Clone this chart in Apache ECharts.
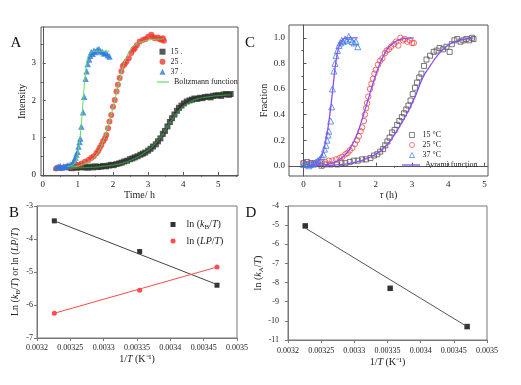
<!DOCTYPE html>
<html><head><meta charset="utf-8">
<script src="https://cdn.jsdelivr.net/npm/echarts@6/dist/echarts.min.js"></script>
<style>html,body{margin:0;padding:0;background:#fff}#c{width:521px;height:385px}</style>
</head><body><div id="c"></div>
<script>
// ---------- Panel A: intensity vs time ----------
const A_X_TICKS = [0, 1, 2, 3, 4, 5];
const A_X_MINOR = [0.5, 1.5, 2.5, 3.5, 4.5, 5.5];
const A_Y_TICKS = [0, 1, 2, 3];
const A_Y_MINOR = [0.5, 1.5, 2.5, 3.5];
const A_NAMES = ['15 .', '25 .', '37 .'];
const a15 = [[0.75,0.2],[0.82,0.18],[0.9,0.21],[0.97,0.19],[1.05,0.22],[1.12,0.2],[1.2,0.21],[1.28,0.19],[1.35,0.22],[1.43,0.2],[1.5,0.23],[1.58,0.21],[1.65,0.22],[1.72,0.24],[1.8,0.23],[1.88,0.25],[1.95,0.27],[2.02,0.26],[2.1,0.29],[2.18,0.31],[2.25,0.33],[2.32,0.36],[2.4,0.38],[2.48,0.42],[2.55,0.44],[2.62,0.47],[2.7,0.5],[2.78,0.54],[2.85,0.57],[2.92,0.6],[3.0,0.65],[3.07,0.7],[3.14,0.76],[3.22,0.82],[3.28,0.9],[3.35,0.98],[3.42,1.1],[3.48,1.18],[3.55,1.3],[3.62,1.42],[3.68,1.52],[3.75,1.62],[3.82,1.72],[3.88,1.8],[3.95,1.86],[4.02,1.92],[4.1,1.97],[4.18,2.0],[4.25,2.02],[4.32,2.05],[4.4,2.04],[4.48,2.07],[4.55,2.06],[4.62,2.09],[4.7,2.1],[4.78,2.08],[4.85,2.12],[4.92,2.13],[5.0,2.14],[5.08,2.12],[5.15,2.16],[5.22,2.17],[5.3,2.15],[5.35,2.17]];
const a25 = [[0.38,0.17],[0.45,0.2],[0.52,0.18],[0.6,0.2],[0.7,0.22],[0.8,0.21],[0.9,0.24],[1.0,0.27],[1.1,0.3],[1.2,0.35],[1.3,0.4],[1.38,0.45],[1.45,0.5],[1.53,0.58],[1.58,0.65],[1.62,0.72],[1.67,0.8],[1.72,0.9],[1.77,0.98],[1.81,1.07],[1.86,1.25],[1.9,1.43],[1.95,1.61],[2.0,1.83],[2.05,2.01],[2.1,2.24],[2.14,2.42],[2.19,2.6],[2.24,2.78],[2.28,2.92],[2.33,2.97],[2.38,3.04],[2.45,3.13],[2.52,3.27],[2.58,3.36],[2.62,3.4],[2.68,3.48],[2.76,3.58],[2.86,3.63],[2.93,3.65],[3.0,3.71],[3.09,3.76],[3.14,3.7],[3.19,3.67],[3.28,3.69],[3.33,3.64],[3.38,3.63],[3.42,3.67],[3.45,3.6]];
const a37 = [[0.38,0.2],[0.45,0.22],[0.5,0.24],[0.55,0.2],[0.6,0.23],[0.65,0.22],[0.7,0.25],[0.75,0.26],[0.8,0.28],[0.86,0.33],[0.9,0.4],[0.93,0.47],[0.96,0.55],[0.99,0.62],[1.02,0.76],[1.05,0.88],[1.07,0.98],[1.1,1.3],[1.15,1.68],[1.18,2.1],[1.22,2.58],[1.25,2.78],[1.28,2.98],[1.32,3.1],[1.35,3.2],[1.38,3.3],[1.42,3.25],[1.46,3.34],[1.5,3.3],[1.55,3.36],[1.6,3.38],[1.65,3.32],[1.7,3.3],[1.75,3.26],[1.8,3.28],[1.85,3.22],[1.9,3.18]];
const a15fit = [[0.75,0.19],[1.5,0.21],[2.0,0.26],[2.4,0.35],[2.7,0.48],[3.0,0.66],[3.2,0.83],[3.4,1.07],[3.6,1.37],[3.8,1.64],[4.0,1.84],[4.2,1.96],[4.4,2.04],[4.6,2.08],[4.8,2.11],[5.0,2.13],[5.35,2.15]];
const a25fit = [[0.8,0.2],[1.2,0.3],[1.5,0.5],[1.7,0.85],[1.9,1.45],[2.0,1.8],[2.1,2.2],[2.2,2.6],[2.3,2.95],[2.4,3.2],[2.5,3.36],[2.6,3.47],[2.8,3.57],[3.0,3.62],[3.2,3.64],[3.45,3.65]];
const a37fit = [[0.7,0.22],[0.9,0.3],[1.0,0.6],[1.05,0.9],[1.1,1.4],[1.15,2.0],[1.2,2.6],[1.25,3.0],[1.3,3.2],[1.4,3.3],[1.5,3.32],[1.7,3.32],[1.9,3.32]];

// ---------- Panel C: fraction vs tau ----------
const C_X_TICKS = [0, 1, 2, 3, 4, 5];
const C_X_MINOR = [0.5, 1.5, 2.5, 3.5, 4.5];
const C_Y_TICKS = [0, 0.2, 0.4, 0.6, 0.8, 1.0];
const C_Y_MINOR = [0.1, 0.3, 0.5, 0.7, 0.9];
const C_NAMES = ['15 °C', '25 °C', '37 °C'];
const c15 = [[0,0.02],[0.1,0.03],[0.2,0.02],[0.3,0.01],[0.5,0.0],[0.6,0.01],[0.75,0.01],[0.93,0.01],[1.05,0.02],[1.16,0.02],[1.28,0.03],[1.39,0.04],[1.5,0.04],[1.62,0.05],[1.73,0.05],[1.85,0.06],[1.95,0.08],[2.04,0.09],[2.12,0.11],[2.2,0.13],[2.26,0.16],[2.32,0.19],[2.38,0.22],[2.45,0.26],[2.52,0.28],[2.59,0.32],[2.65,0.35],[2.72,0.38],[2.78,0.41],[2.84,0.44],[2.9,0.47],[2.96,0.51],[3.02,0.56],[3.08,0.61],[3.14,0.65],[3.2,0.69],[3.26,0.72],[3.33,0.78],[3.4,0.83],[3.5,0.86],[3.6,0.89],[3.68,0.9],[3.76,0.92],[3.86,0.91],[3.95,0.93],[4.04,0.89],[4.1,0.95],[4.17,0.98],[4.25,0.99],[4.34,0.97],[4.42,0.98],[4.5,0.99],[4.58,0.98],[4.66,1.0],[4.7,0.99]];
const c25 = [[0,0.02],[0.1,0.01],[0.2,0.02],[0.3,0.02],[0.4,0.03],[0.5,0.03],[0.6,0.03],[0.7,0.04],[0.8,0.04],[0.9,0.05],[1.0,0.06],[1.07,0.07],[1.16,0.09],[1.22,0.1],[1.28,0.12],[1.35,0.14],[1.42,0.17],[1.48,0.2],[1.53,0.23],[1.58,0.27],[1.62,0.3],[1.67,0.35],[1.7,0.4],[1.73,0.45],[1.76,0.49],[1.79,0.54],[1.84,0.6],[1.88,0.64],[1.92,0.68],[1.96,0.72],[2.0,0.75],[2.06,0.79],[2.12,0.82],[2.18,0.84],[2.25,0.88],[2.3,0.9],[2.36,0.91],[2.42,0.93],[2.5,0.95],[2.56,0.97],[2.62,0.94],[2.68,1.0],[2.75,0.98],[2.8,0.99],[2.87,0.97],[2.94,0.98],[3.0,0.96],[3.05,0.96]];
const c37 = [[0,0.01],[0.05,0.02],[0.1,0.01],[0.15,0.0],[0.2,0.01],[0.25,0.02],[0.3,0.02],[0.35,0.03],[0.4,0.04],[0.45,0.05],[0.5,0.07],[0.55,0.09],[0.58,0.13],[0.62,0.16],[0.65,0.2],[0.68,0.24],[0.7,0.27],[0.75,0.35],[0.78,0.46],[0.8,0.6],[0.84,0.74],[0.87,0.8],[0.9,0.86],[0.94,0.9],[0.98,0.94],[1.02,0.96],[1.06,0.98],[1.1,0.97],[1.15,0.99],[1.2,0.98],[1.25,1.01],[1.3,0.99],[1.35,0.97],[1.4,0.96],[1.45,0.97],[1.5,0.93]];
const c15fit = [[0.6,0.0],[1.2,0.015],[1.6,0.04],[2.0,0.09],[2.3,0.16],[2.6,0.28],[2.9,0.43],[3.1,0.55],[3.3,0.69],[3.5,0.78],[3.7,0.86],[3.9,0.92],[4.1,0.96],[4.3,0.98],[4.7,1.0]];
const c25fit = [[0.3,0.0],[0.8,0.02],[1.1,0.07],[1.3,0.14],[1.5,0.26],[1.65,0.39],[1.8,0.53],[1.95,0.67],[2.1,0.79],[2.25,0.88],[2.4,0.94],[2.6,0.98],[2.8,0.995],[3.05,1.0]];
const c37fit = [[0.1,0.0],[0.3,0.01],[0.45,0.05],[0.55,0.11],[0.65,0.25],[0.72,0.38],[0.78,0.52],[0.84,0.68],[0.9,0.82],[0.96,0.91],[1.02,0.96],[1.1,0.99],[1.2,1.0],[1.5,1.0]];

// ---------- Panels B and D: Arrhenius-type plots ----------
const BD_X_TICKS = [0.0032, 0.00325, 0.0033, 0.00335, 0.0034, 0.00345, 0.0035];
const BD_X_LABELS = ['0.0032', '0.00325', '0.0033', '0.00335', '0.0034', '0.00345', '0.0035'];
const invT = [0.003226, 0.003354, 0.003470];
const lnKB = [-3.45, -4.38, -5.4];
const lnLP = [-6.25, -5.55, -4.85];
const lnKBfit = [[0.003226, -3.45], [0.00347, -5.38]];
const lnLPfit = [[0.003226, -6.25], [0.00347, -4.85]];
const lnKA = [-5.04, -8.3, -10.3];
const lnKAfit = [[0.003226, -5.15], [0.00347, -10.3]];

const FONT = 'Liberation Serif';
const TXT = '#222';
const BOX = '#555';
const BOX2 = '#777';

function pairs(xs, ys) { return xs.map((x, i) => [x, ys[i]]); }

const RICH = {
  n: { fontFamily: FONT, fontSize: 10, color: TXT },
  i: { fontFamily: FONT, fontSize: 10, color: TXT, fontStyle: 'italic' },
  s: { fontFamily: FONT, fontSize: 7, color: TXT, padding: [6, 0, 0, 0] }
};

function mainAxis(o) {
  return Object.assign({
    type: 'value',
    axisLine: { show: true, lineStyle: { color: o.lc || BOX, width: 1 } },
    splitLine: { show: false },
    axisTick: { show: true, inside: o.inside !== false, length: 3, lineStyle: { color: o.lc || BOX },
      customValues: o.ticks },
    axisLabel: { show: true, customValues: o.ticks, margin: o.margin, color: TXT, fontSize: o.fs || 9,
      fontFamily: FONT, formatter: o.fmt },
    nameTextStyle: { color: TXT, fontFamily: FONT, fontSize: 10, rich: RICH }
  }, o.extra);
}
function minorAxis(o) {
  return Object.assign({
    type: 'value',
    axisLine: { show: false },
    splitLine: { show: false },
    axisTick: { show: true, inside: true, length: 2, lineStyle: { color: BOX }, customValues: o.ticks },
    axisLabel: { show: false }
  }, o.extra);
}
const bdFmt = v => BD_X_LABELS[BD_X_TICKS.findIndex(t => Math.abs(t - v) < 1e-8)];

const xAxis = [
  mainAxis({ ticks: A_X_TICKS, margin: 4, fmt: v => String(v), extra: { gridIndex: 0, min: -0.05, max: 5.56,
    name: 'Time/ h', nameLocation: 'middle', nameGap: 12 } }),
  minorAxis({ ticks: A_X_MINOR, extra: { gridIndex: 0, min: -0.05, max: 5.56 } }),
  mainAxis({ ticks: C_X_TICKS, margin: 4, fmt: v => String(v), extra: { gridIndex: 1, min: -0.4, max: 5.1,
    name: '{i|τ} {n|(h)}', nameLocation: 'middle', nameGap: 13 } }),
  minorAxis({ ticks: C_X_MINOR, extra: { gridIndex: 1, min: -0.4, max: 5.1 } }),
  mainAxis({ ticks: BD_X_TICKS, margin: 6, fs: 8, inside: false, lc: BOX2, fmt: bdFmt,
    extra: { gridIndex: 2, min: 0.0032, max: 0.0035,
      name: '{n|1/}{i|T}{n| (K⁻¹)}', nameLocation: 'middle', nameGap: 16 } }),
  mainAxis({ ticks: BD_X_TICKS, margin: 7, fs: 8, inside: false, lc: BOX2, fmt: bdFmt,
    extra: { gridIndex: 3, min: 0.0032, max: 0.0035,
      name: '{n|1/}{i|T}{n| (K⁻¹)}', nameLocation: 'middle', nameGap: 17 } })
];
const yAxis = [
  mainAxis({ ticks: A_Y_TICKS, margin: 5, fmt: v => String(v), extra: { gridIndex: 0, min: -0.03, max: 3.97,
    name: 'Intensity', nameLocation: 'middle', nameGap: 13 } }),
  minorAxis({ ticks: A_Y_MINOR, extra: { gridIndex: 0, min: -0.03, max: 3.97 } }),
  mainAxis({ ticks: C_Y_TICKS, margin: 4, fmt: v => v.toFixed(1), extra: { gridIndex: 1, min: -0.08, max: 1.1,
    name: 'Fraction', nameLocation: 'middle', nameGap: 18 } }),
  minorAxis({ ticks: C_Y_MINOR, extra: { gridIndex: 1, min: -0.08, max: 1.1 } }),
  mainAxis({ ticks: [-7, -6, -5, -4, -3], margin: 4, fs: 8, inside: false, lc: BOX2, fmt: v => String(v),
    extra: { gridIndex: 2, min: -7, max: -3,
      name: '{n|Ln (}{i|k}{s|B}{n|/}{i|T}{n|) or ln (}{i|LP}{n|/}{i|T}{n|)}', nameLocation: 'middle', nameGap: 15 } }),
  mainAxis({ ticks: [-11, -10, -9, -8, -7, -6, -5, -4], margin: 9, fs: 8, inside: false, lc: BOX2, fmt: v => String(v),
    extra: { gridIndex: 3, min: -11, max: -4,
      name: '{n|ln (}{i|k}{s|A}{n|/}{i|T}{n|)}', nameLocation: 'middle', nameGap: 23 } })
];

const GREEN = '#62de62';
const GREEN_D = '#2f8f3a';
const PURPLE = '#8d4ff2';

function scat(name, data, x, y, symbol, size, style) {
  return { type: 'scatter', name, data, xAxisIndex: x, yAxisIndex: y, symbol, symbolSize: size,
    itemStyle: style, silent: true, z: 2 };
}
function fit(name, data, x, y, color, w, smooth) {
  return { type: 'line', name, data, xAxisIndex: x, yAxisIndex: y, symbol: 'none', smooth: smooth,
    lineStyle: { color, width: w }, itemStyle: { color }, silent: true, z: 3 };
}

const series = [
  scat(A_NAMES[0], a15, 0, 0, 'rect', 6, { color: '#2e2e2e' }),
  scat(A_NAMES[1], a25, 0, 0, 'circle', 6, { color: '#f03a30' }),
  scat(A_NAMES[2], a37, 0, 0, 'triangle', 6.5, { color: '#2c78e2' }),
  fit('Boltzmann function', a37fit, 0, 0, GREEN, 1, 0.4),
  fit('Boltzmann function', a25fit, 0, 0, GREEN, 1, 0.4),
  fit('Boltzmann function', a15fit, 0, 0, GREEN_D, 1.2, 0.4),

  scat(C_NAMES[0], c15, 2, 2, 'rect', 5, { color: 'rgba(255,255,255,0)', borderColor: '#555', borderWidth: 1 }),
  scat(C_NAMES[1], c25, 2, 2, 'circle', 5.5, { color: 'rgba(255,255,255,0)', borderColor: '#f04848', borderWidth: 1 }),
  scat(C_NAMES[2], c37, 2, 2, 'triangle', 6, { color: 'rgba(255,255,255,0)', borderColor: '#3a80e6', borderWidth: 1 }),
  fit('Avrami function', c37fit, 2, 2, PURPLE, 1.3, 0.4),
  fit('Avrami function', c25fit, 2, 2, PURPLE, 1.3, 0.4),
  fit('Avrami function', c15fit, 2, 2, PURPLE, 1.3, 0.4),

  fit('kBfit', lnKBfit, 4, 4, '#444', 1, false),
  fit('LPfit', lnLPfit, 4, 4, '#ff4a4a', 1, false),
  scat('ln (kB/T)', pairs(invT, lnKB), 4, 4, 'rect', 5, { color: '#000' }),
  scat('ln (LP/T)', pairs(invT, lnLP), 4, 4, 'circle', 5, { color: '#ff2020' }),

  fit('kAfit', lnKAfit, 5, 5, '#555', 1, false),
  scat('kA', pairs(invT, lnKA), 5, 5, 'rect', 5.5, { color: '#000' })
];

const legTxt = { fontFamily: FONT, fontSize: 8, color: TXT };
const legend = [
  { left: 159.5, top: 47.7, padding: 0, orient: 'vertical', itemWidth: 6, itemHeight: 6, itemGap: 2, selectedMode: false,
    data: A_NAMES, textStyle: legTxt },
  { left: 157, top: 78, padding: 0, orient: 'vertical', itemWidth: 12, itemHeight: 1.2, selectedMode: false,
    data: [{ name: 'Boltzmann function', icon: 'rect' }], textStyle: legTxt },
  { left: 409, top: 131, padding: 0, orient: 'vertical', itemWidth: 5, itemHeight: 5, itemGap: 2, selectedMode: false,
    itemStyle: { borderWidth: 0.9 },
    data: C_NAMES, textStyle: Object.assign({ padding: [0, 0, 0, 3] }, legTxt) },
  { left: 402, top: 161, padding: 0, orient: 'vertical', itemWidth: 18, itemHeight: 1.3, selectedMode: false,
    data: [{ name: 'Avrami function', icon: 'rect' }], textStyle: legTxt },
  { left: 170.5, top: 219.5, padding: 0, orient: 'vertical', itemWidth: 5, itemHeight: 5, itemGap: 5, selectedMode: false,
    data: ['ln (kB/T)', 'ln (LP/T)'],
    formatter: n => n === 'ln (kB/T)' ? '{n|ln (}{i|k}{s|B}{n|/}{i|T}{n|)}' : '{n|ln (}{i|LP}{n|/}{i|T}{n|)}',
    textStyle: { fontFamily: FONT, fontSize: 10, color: TXT, padding: [0, 0, 0, 6], rich: RICH } }
];

const letters = [['A', 16, 43], ['C', 250, 43], ['B', 14, 213], ['D', 251, 213]];

const chart = echarts.init(document.getElementById('c'), null, { renderer: 'canvas' });
chart.setOption({
  animation: false,
  backgroundColor: '#fff',
  textStyle: { fontFamily: FONT },
  grid: [
    { left: 41, top: 27, width: 197, height: 149, show: true, borderColor: BOX, borderWidth: 1 },
    { left: 289, top: 25, width: 199, height: 151, show: true, borderColor: BOX, borderWidth: 1 },
    { left: 37, top: 206, width: 200, height: 132, show: true, borderColor: BOX2, borderWidth: 1 },
    { left: 288, top: 206, width: 199, height: 134, show: true, borderColor: BOX2, borderWidth: 1 }
  ],
  xAxis, yAxis, legend, series,
  graphic: letters.map(([t, x, y]) => ({ type: 'text', x, y,
    style: { text: t, font: '15px "Liberation Serif"', fill: '#111', align: 'center', verticalAlign: 'middle' } }))
});
</script></body></html>
